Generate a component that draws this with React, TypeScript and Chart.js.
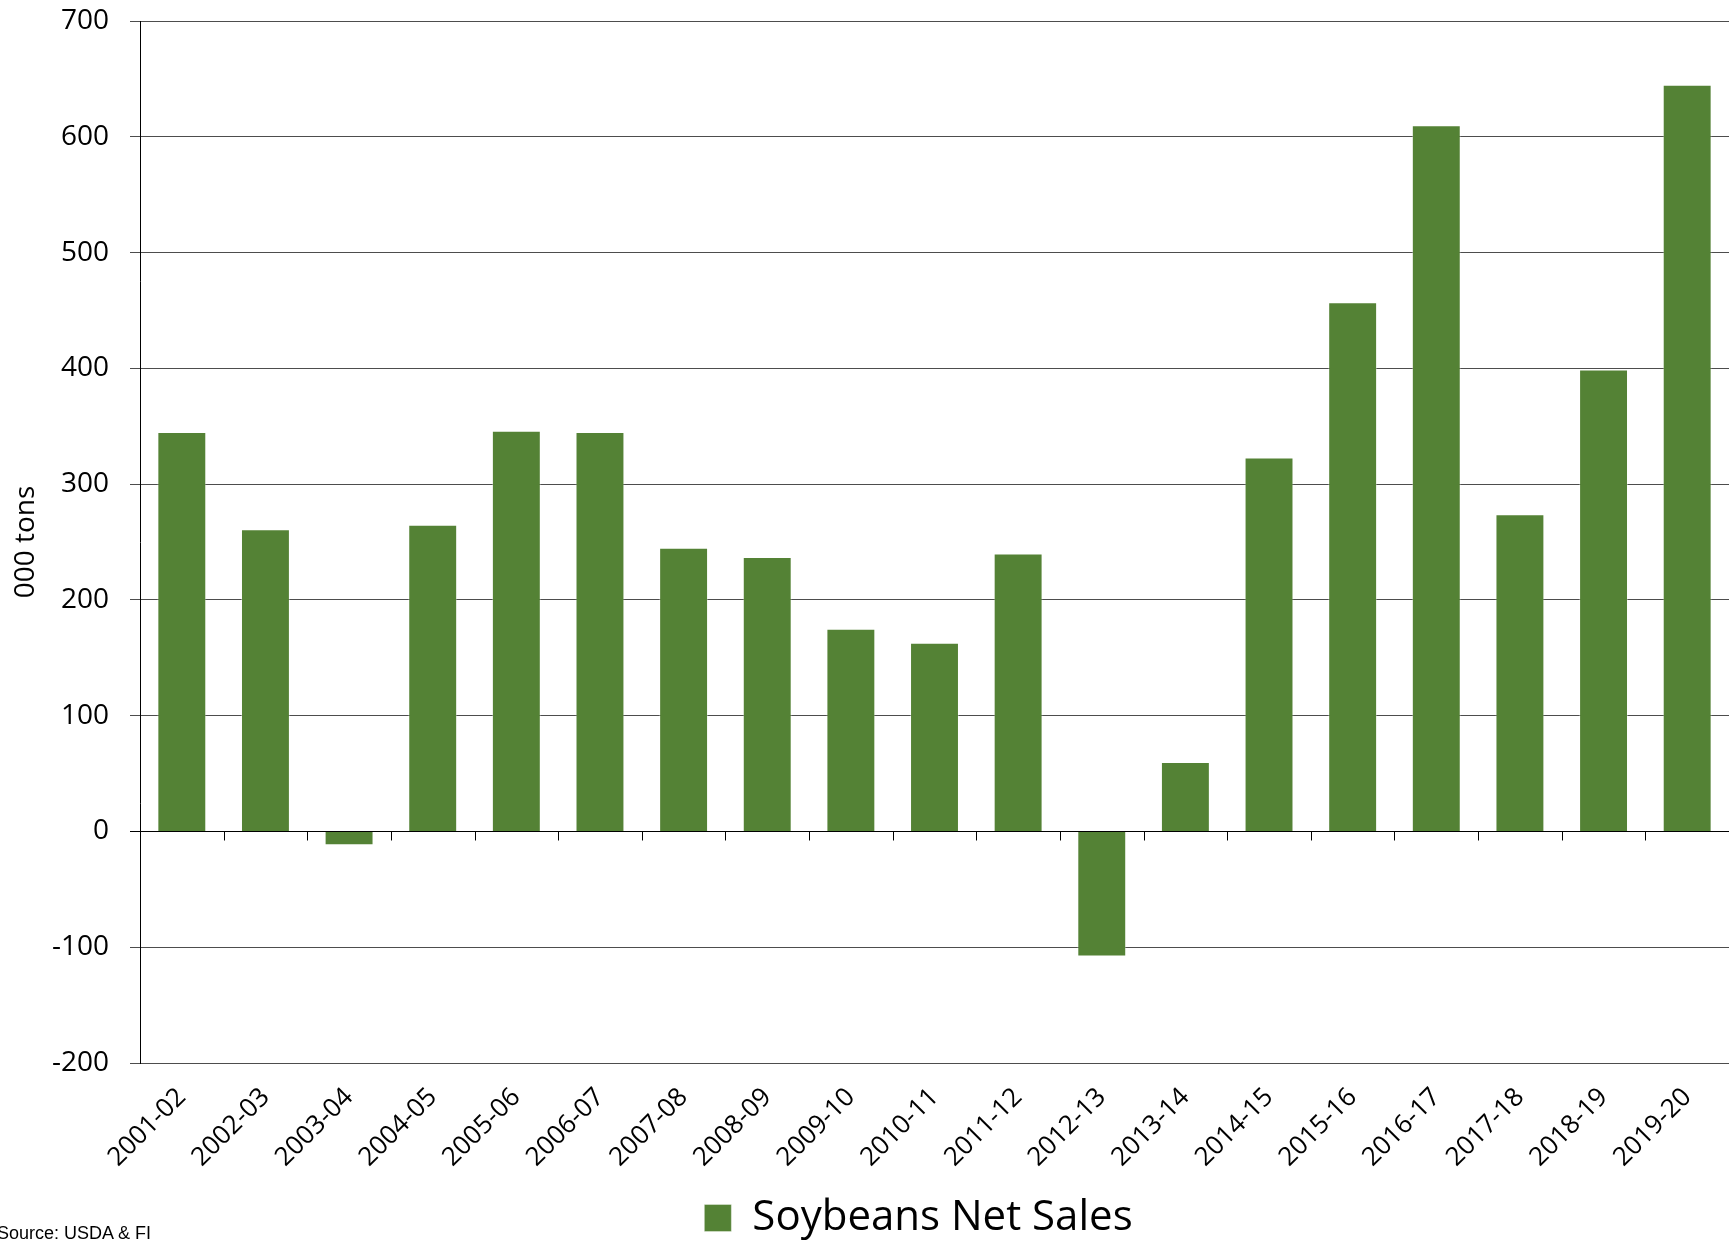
import React, { useEffect, useRef } from "react";
import { Chart, registerables } from "chart.js";

Chart.register(...registerables);

const categories = [
  "2001-02", "2002-03", "2003-04", "2004-05", "2005-06", "2006-07", "2007-08",
  "2008-09", "2009-10", "2010-11", "2011-12", "2012-13", "2013-14", "2014-15",
  "2015-16", "2016-17", "2017-18", "2018-19", "2019-20",
];
const netSales = [345, 261, -12, 265, 346, 345, 245, 237, 175, 163, 240, -108, 60, 323, 457, 610, 274, 399, 645];
const seriesLabel = "Soybeans Net Sales";
const yTitle = "000 tons";
const yMin = -200;
const yMax = 700;
const yStep = 100;
const sourceNote = "Source: USDA & FI";

const FONT = "'Open Sans', 'Noto Sans', sans-serif";

const zeroAxisPlugin = {
  id: "zeroAxis",
  afterLayout(chart: any) {
    // centre the legend slightly left, as in the original layout
    if (chart.legend) {
      chart.legend.left -= 16;
      chart.legend.right -= 16;
    }
  },
  afterDatasetsDraw(chart: any) {
    const xs = chart.scales.x;
    const ys = chart.scales.y;
    const ctx = chart.ctx;
    const y0 = Math.round(ys.getPixelForValue(0)) + 0.5;
    ctx.save();
    ctx.strokeStyle = "#000";
    ctx.lineWidth = 1;
    ctx.beginPath();
    ctx.moveTo(chart.chartArea.left, y0);
    ctx.lineTo(chart.chartArea.right, y0);
    for (let i = 1; i < categories.length; i++) {
      const bx = Math.round((xs.getPixelForValue(i - 1) + xs.getPixelForValue(i)) / 2) + 0.5;
      ctx.moveTo(bx, y0);
      ctx.lineTo(bx, y0 + 9);
    }
    ctx.stroke();
    ctx.restore();
  },
};

export default function App() {
  const canvasRef = useRef<HTMLCanvasElement | null>(null);

  useEffect(() => {
    if (!canvasRef.current) return;
    const chart = new Chart(canvasRef.current, {
      type: "bar",
      data: {
        labels: categories,
        datasets: [
          {
            label: seriesLabel,
            data: netSales,
            backgroundColor: "#548235",
            borderColor: "rgba(255,255,255,0.35)",
            borderWidth: 1,
            barPercentage: 0.585,
            categoryPercentage: 1,
          },
        ],
      },
      options: {
        animation: false,
        responsive: true,
        maintainAspectRatio: false,
        events: [],
        layout: { padding: { top: 21, left: 0, right: 0, bottom: -6 } },
        plugins: {
          tooltip: { enabled: false },
          legend: {
            display: true,
            position: "bottom",
            fullSize: false,
            labels: {
              font: { size: 42, family: FONT },
              color: "#000",
              boxWidth: 27,
              boxHeight: 27,
              padding: 10,
            },
          },
        },
        scales: {
          x: {
            type: "category",
            offset: true,
            grid: { display: false },
            border: { display: false },
            ticks: {
              autoSkip: false,
              maxRotation: 45,
              minRotation: 45,
              padding: 11,
              color: "#000",
              font: { size: 26, family: FONT },
            },
            afterFit(scale: any) {
              scale.height = 124;
            },
          },
          y: {
            min: yMin,
            max: yMax,
            ticks: {
              stepSize: yStep,
              padding: 21,
              color: "#000",
              font: { size: 28, family: FONT },
            },
            grid: {
              color: (c: any) => (c.tick && c.tick.value === 0 ? "#000" : "#4d4d4d"),
              lineWidth: 1,
              tickLength: 10,
            },
            border: { display: true, color: "#000", width: 1 },
            title: {
              display: true,
              text: yTitle,
              color: "#000",
              font: { size: 28, family: FONT },
              padding: { top: 9, bottom: 0 },
            },
            afterFit(scale: any) {
              scale.width = 140;
              scale.paddingTop = 0;
              scale.paddingBottom = 0;
            },
          },
        },
      },
      plugins: [zeroAxisPlugin],
    } as any);
    return () => chart.destroy();
  }, []);

  return (
    <div style={{ position: "fixed", left: 0, top: 0, width: 1729, height: 1243, background: "#fff", overflow: "hidden" }}>
      <div style={{ position: "absolute", left: 0, top: 0, width: 1729, height: 1243 }}>
        <canvas ref={canvasRef} />
      </div>
      <div
        style={{
          position: "absolute",
          left: -3,
          top: 1223,
          fontFamily: "'Liberation Sans', Arial, sans-serif",
          fontSize: 18,
          lineHeight: "20px",
          color: "#000",
          whiteSpace: "nowrap",
        }}
      >
        {sourceNote}
      </div>
    </div>
  );
}
